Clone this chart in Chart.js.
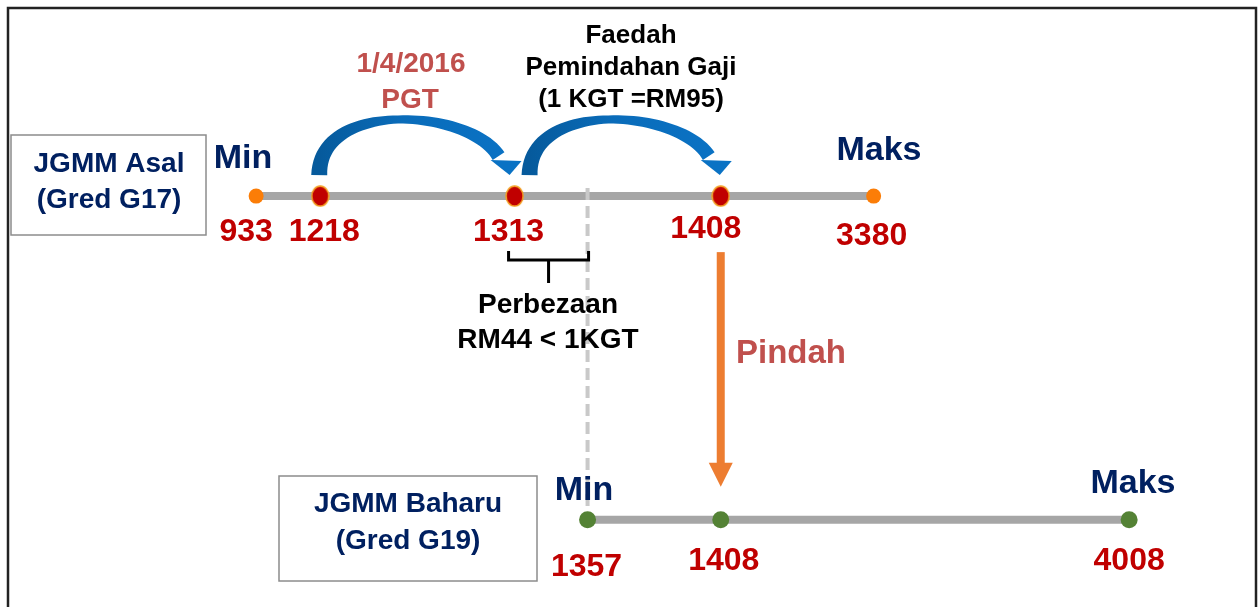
<!DOCTYPE html>
<html>
<script src="https://cdn.jsdelivr.net/npm/chart.js@4.4.1/dist/chart.umd.min.js"></script>
<body style="margin:0;background:#fff">
<div style="width:1258px;height:607px"><canvas id="myChart"></canvas></div>

<script>
    // salary scale values (RM)
    const asalMin = 933, asalMax = 3380;
    const asalSteps = [1218, 1313, 1408];
    const baharuValues = [1357, 1408, 4008];
    const asalRow = 1, baharuRow = 0;
    const asalLabels = ["933", "1218", "1313", "1408", "3380"];
    const baharuLabels = ["1357", "1408", "4008"];

    const FONT = '"Liberation Sans", Arial, sans-serif';
    const NAVY = "#002060", RED = "#c00000", SOFTRED = "#c0504d";

    // schematic x axis: not to scale, knots put the salaries where the slide had them
    class SchematicScale extends Chart.LinearScale {
        static id = "schematic";
        static defaults = Chart.LinearScale.defaults;
        getPixelForValue(v) {
            const k = this.options.knots, W = this.options.baseWidth;
            let i = 0;
            while (i < k.length - 2 && v > k[i + 1][0]) i++;
            const a = k[i], b = k[i + 1];
            const p = a[1] + (v - a[0]) / (b[0] - a[0]) * (b[1] - a[1]);
            return this.left + p / W * this.width;
        }
        getValueForPixel(px) {
            const k = this.options.knots, W = this.options.baseWidth;
            const p = (px - this.left) / this.width * W;
            let i = 0;
            while (i < k.length - 2 && p > k[i + 1][1]) i++;
            const a = k[i], b = k[i + 1];
            return a[0] + (p - a[1]) / (b[1] - a[1]) * (b[0] - a[0]);
        }
    }
    Chart.register(SchematicScale);

    function ellipseDot(rx, ry, fill, stroke) {
        const c = document.createElement("canvas");
        c.width = rx * 2 + 2; c.height = ry * 2 + 2;
        const g = c.getContext("2d");
        g.beginPath();
        g.ellipse(rx + 1, ry + 1, rx, ry, 0, 0, Math.PI * 2);
        g.fillStyle = fill; g.fill();
        g.lineWidth = 1.5; g.strokeStyle = stroke; g.stroke();
        return c;
    }

    function text(ctx, s, x, y, size, color, align) {
        ctx.font = "bold " + size + "px " + FONT;
        ctx.fillStyle = color;
        ctx.textAlign = align || "center";
        ctx.textBaseline = "alphabetic";
        ctx.fillText(s, x, y);
    }

    function cubic(p, t) {
        const u = 1 - t;
        return [
            u*u*u*p[0][0] + 3*u*u*t*p[1][0] + 3*u*t*t*p[2][0] + t*t*t*p[3][0],
            u*u*u*p[0][1] + 3*u*u*t*p[1][1] + 3*u*t*t*p[2][1] + t*t*t*p[3][1]
        ];
    }

    // curved block arrow from x0 (base) to tip xt, both at yBase
    function curvedArrow(ctx, x0, xt, yBase) {
        const P = [[x0, yBase], [x0, yBase - 76], [xt - 40, yBase - 66], [xt - 11, yBase - 19]];
        const left = [], right = [], n = 50;
        for (let i = 0; i <= n; i++) {
            const t = i / n;
            const a = cubic(P, Math.max(0, t - 0.01)), b = cubic(P, Math.min(1, t + 0.01));
            let dx = b[0] - a[0], dy = b[1] - a[1];
            const len = Math.hypot(dx, dy); dx /= len; dy /= len;
            const c = cubic(P, t);
            const w = (t < 0.5 ? 16 - 16 * t : 8 + 12 * (t - 0.5)) / 2;
            left.push([c[0] + dy * w, c[1] - dx * w]);
            right.push([c[0] - dy * w, c[1] + dx * w]);
        }
        const grad = ctx.createLinearGradient(x0, 0, xt, 0);
        grad.addColorStop(0, "#065a9c");
        grad.addColorStop(0.45, "#0a6cba");
        grad.addColorStop(1, "#0a72c4");
        ctx.fillStyle = grad;
        ctx.beginPath();
        left.forEach((q, i) => i ? ctx.lineTo(q[0], q[1]) : ctx.moveTo(q[0], q[1]));
        for (let i = right.length - 1; i >= 0; i--) ctx.lineTo(right[i][0], right[i][1]);
        ctx.closePath();
        ctx.fill();
        // head
        ctx.fillStyle = "#0a72c4";
        ctx.beginPath();
        ctx.moveTo(xt - 19, yBase - 15);
        ctx.lineTo(xt + 12, yBase - 14);
        ctx.lineTo(xt, yBase);
        ctx.closePath();
        ctx.fill();
    }

    const diagram = {
        id: "diagram",
        beforeDatasetsDraw(chart) {
            const ctx = chart.ctx;
            ctx.save();
            ctx.strokeStyle = "#222";
            ctx.lineWidth = 2.5;
            ctx.strokeRect(8, 8, 1248, 640);
            ctx.strokeStyle = "#8c8c8c";
            ctx.lineWidth = 1.5;
            ctx.strokeRect(11, 135, 195, 100);
            ctx.strokeRect(279, 476, 258, 105);
            ctx.restore();
        },
        afterDatasetsDraw(chart) {
            const ctx = chart.ctx;
            const xs = chart.scales.x, ys = chart.scales.y;
            const px = v => xs.getPixelForValue(v);
            const yA = ys.getPixelForValue(asalRow), yB = ys.getPixelForValue(baharuRow);
            ctx.save();

            // dashed guide from new minimum up to the old line
            ctx.strokeStyle = "#c9c9c9";
            ctx.lineWidth = 4;
            ctx.setLineDash([12, 6]);
            ctx.beginPath();
            ctx.moveTo(px(baharuValues[0]), yA - 8);
            ctx.lineTo(px(baharuValues[0]), yB - 9);
            ctx.stroke();
            ctx.setLineDash([]);

            // bracket for the difference
            const bl = px(asalSteps[1]) - 6, br = px(baharuValues[0]) + 1, bm = (bl + br) / 2;
            ctx.strokeStyle = "#000";
            ctx.lineWidth = 3;
            ctx.beginPath();
            ctx.moveTo(bl, yA + 55); ctx.lineTo(bl, yA + 64); ctx.lineTo(br, yA + 64); ctx.lineTo(br, yA + 55);
            ctx.moveTo(bm, yA + 64); ctx.lineTo(bm, yA + 87);
            ctx.stroke();

            // curved arrows along the old scale
            curvedArrow(ctx, px(asalSteps[0]) - 1, px(asalSteps[1]) - 5, yA - 21);
            curvedArrow(ctx, px(asalSteps[1]) + 15, px(asalSteps[2]) - 1, yA - 21);

            // move arrow down to new scale
            const xm = px(baharuValues[1]);
            ctx.fillStyle = "#ed7d31";
            ctx.fillRect(xm - 4, yA + 56, 8, yB - yA - 112);
            ctx.beginPath();
            ctx.moveTo(xm - 12, yB - 57); ctx.lineTo(xm + 12, yB - 57); ctx.lineTo(xm, yB - 33);
            ctx.closePath(); ctx.fill();

            // value labels
            const asalVals = [asalMin].concat(asalSteps, [asalMax]);
            const aOff = [[-10, 45], [4, 45], [-6, 45], [-15, 42], [-2, 49]];
            asalVals.forEach((v, i) => text(ctx, asalLabels[i], px(v) + aOff[i][0], yA + aOff[i][1], 32, RED));
            const bOff = [[-1, 56], [3, 50], [0, 50]];
            baharuValues.forEach((v, i) => text(ctx, baharuLabels[i], px(v) + bOff[i][0], yB + bOff[i][1], 32, RED));

            // titles and notes
            text(ctx, "Min", 243, 168, 34, NAVY);
            text(ctx, "Maks", 879, 160, 34, NAVY);
            text(ctx, "Min", 584, 500, 34, NAVY);
            text(ctx, "Maks", 1133, 493, 34, NAVY);
            text(ctx, "JGMM Asal", 109, 172, 28, NAVY);
            text(ctx, "(Gred G17)", 109, 208, 28, NAVY);
            text(ctx, "JGMM Baharu", 408, 512, 28, NAVY);
            text(ctx, "(Gred G19)", 408, 549, 28, NAVY);
            text(ctx, "1/4/2016", 411, 72, 28, SOFTRED);
            text(ctx, "PGT", 410, 108, 28, SOFTRED);
            text(ctx, "Faedah", 631, 43, 26, "#000");
            text(ctx, "Pemindahan Gaji", 631, 75, 26, "#000");
            text(ctx, "(1 KGT =RM95)", 631, 107, 26, "#000");
            text(ctx, "Perbezaan", 548, 313, 28, "#000");
            text(ctx, "RM44 < 1KGT", 548, 348, 28, "#000");
            text(ctx, "Pindah", 736, 363, 33, SOFTRED, "left");
            ctx.restore();
        }
    };

    const redDot = ellipseDot(8.5, 10, "#c00000", "#f3a022");

    const myChart = new Chart("myChart", {
        type: "scatter",
        data: {
            datasets: [{
                type: "line",
                data: [{x: asalMin, y: asalRow}, {x: asalMax, y: asalRow}],
                borderColor: "#a6a6a6",
                borderWidth: 8,
                pointRadius: 0,
                order: 5
            }, {
                type: "line",
                data: [{x: baharuValues[0], y: baharuRow}, {x: baharuValues[baharuValues.length - 1], y: baharuRow}],
                borderColor: "#a6a6a6",
                borderWidth: 8,
                pointRadius: 0,
                order: 5
            }, {
                data: [asalMin, asalMax].map(v => ({x: v, y: asalRow})),
                pointRadius: 7.5,
                pointBackgroundColor: "#fb7d07",
                pointBorderWidth: 0,
                order: 1
            }, {
                data: asalSteps.map(v => ({x: v, y: asalRow})),
                pointStyle: redDot,
                order: 1
            }, {
                data: baharuValues.map(v => ({x: v, y: baharuRow})),
                pointRadius: 8.5,
                pointBackgroundColor: "#548235",
                pointBorderWidth: 0,
                order: 1
            }]
        },
        options: {
            responsive: true,
            maintainAspectRatio: false,
            animation: false,
            events: [],
            layout: {padding: 0},
            plugins: {legend: {display: false}, tooltip: {enabled: false}},
            scales: {
                x: {
                    type: "schematic",
                    display: false,
                    min: 900, max: 4100,
                    baseWidth: 1258,
                    knots: [[933, 251], [1218, 316], [1313, 513], [1357, 587], [1408, 722], [3380, 877], [4008, 1136]]
                },
                y: {display: false, min: -0.243, max: 1.5796}
            }
        },
        plugins: [diagram]
    });
</script>
</body>
</html>
